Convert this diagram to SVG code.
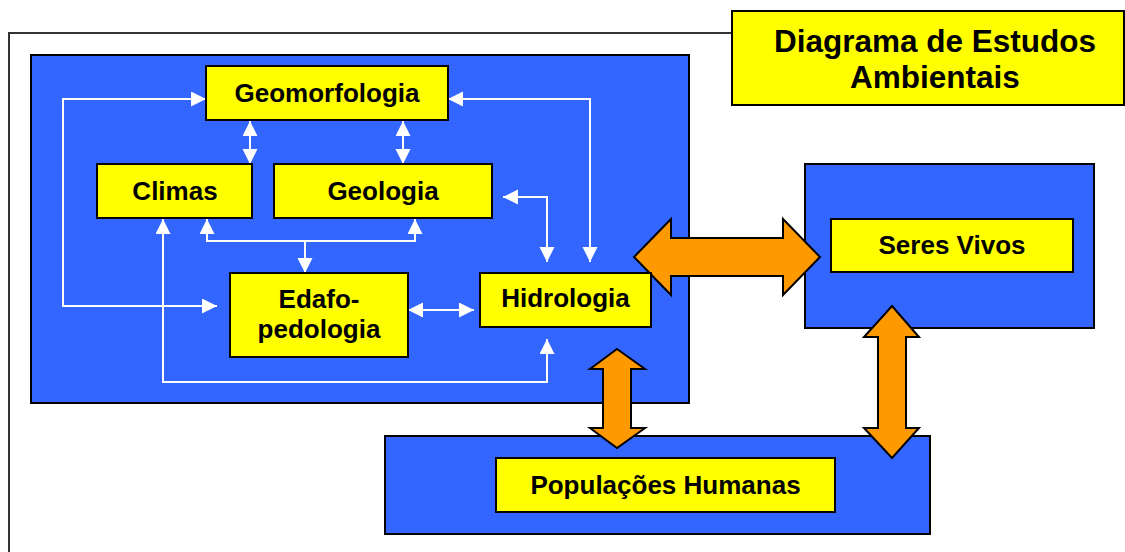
<svg xmlns="http://www.w3.org/2000/svg" width="1125" height="552" viewBox="0 0 1125 552">
<style>
.blue{fill:#3366FF;stroke:#000;stroke-width:2}
.yel{fill:#FFFF00;stroke:#000;stroke-width:2}
.org{fill:#FF9900;stroke:#000;stroke-width:2;stroke-linejoin:miter}
.lbl{font-family:"Liberation Sans",Arial,sans-serif;font-weight:bold;font-size:26px;fill:#000;text-anchor:middle}
.ttl{font-size:31.5px}
.wl{fill:none;stroke:#fff;stroke-width:2}
</style>
<defs>
<marker id="wa" markerUnits="userSpaceOnUse" markerWidth="16" markerHeight="16" refX="15" refY="7.5" orient="auto-start-reverse" viewBox="0 0 16 16">
<path d="M0,0 L15,7.5 L0,15 z" fill="#fff"/>
</marker>
</defs>
<rect width="1125" height="552" fill="#fff"/>
<g id="frame">
<path d="M9,560 V33 H732" fill="none" stroke="#333" stroke-width="2"/>
</g>
<g id="title">
<rect class="yel" x="732" y="11" width="392" height="94"/>
<text class="lbl ttl" x="935" y="52">Diagrama de Estudos</text>
<text class="lbl ttl" x="935" y="88">Ambientais</text>
</g>
<g id="meio-fisico">
<rect class="blue" x="31" y="55" width="658" height="348"/>
</g>
<g id="seres-vivos-area">
<rect class="blue" x="805" y="164" width="289" height="164"/>
</g>
<g id="populacoes-area">
<rect class="blue" x="385" y="436" width="545" height="98"/>
</g>
<g id="connectors">
<path class="wl" d="M250,121 V164" marker-start="url(#wa)" marker-end="url(#wa)"/>
<path class="wl" d="M403,121 V164" marker-start="url(#wa)" marker-end="url(#wa)"/>
<path class="wl" d="M206,99 H63 V306 H217" marker-start="url(#wa)" marker-end="url(#wa)"/>
<path class="wl" d="M163,219 V382 H547 V339" marker-start="url(#wa)" marker-end="url(#wa)"/>
<path class="wl" d="M207,219 V241 H415 V219" marker-start="url(#wa)" marker-end="url(#wa)"/>
<path class="wl" d="M305,241 V273" marker-end="url(#wa)"/>
<path class="wl" d="M408,310 H474" marker-start="url(#wa)" marker-end="url(#wa)"/>
<path class="wl" d="M503,197 H547 V262" marker-start="url(#wa)" marker-end="url(#wa)"/>
<path class="wl" d="M448,99 H590 V262" marker-start="url(#wa)" marker-end="url(#wa)"/>
<path class="org" d="M634,257 L671,219 V238 H783 V219 L820,257 L783,295 V276 H671 V295 z"/>
<path class="org" d="M617,349 L645,369 H631 V428 H645 L617,448 L590,428 H603 V369 H590 z"/>
<path class="org" d="M892,306 L919,337 H906 V428 H919 L892,458 L864,428 H878 V337 H864 z"/>
</g>
<g id="geomorfologia">
<rect class="yel" x="206" y="66" width="242" height="54"/>
<text class="lbl" x="327" y="102">Geomorfologia</text>
</g>
<g id="climas">
<rect class="yel" x="97" y="164" width="155" height="54"/>
<text class="lbl" x="175" y="200">Climas</text>
</g>
<g id="geologia">
<rect class="yel" x="274" y="164" width="218" height="54"/>
<text class="lbl" x="383" y="200">Geologia</text>
</g>
<g id="edafopedologia">
<rect class="yel" x="230" y="273" width="178" height="84"/>
<text class="lbl" x="319" y="308">Edafo-</text>
<text class="lbl" x="319" y="338">pedologia</text>
</g>
<g id="hidrologia">
<rect class="yel" x="480" y="273" width="171" height="54"/>
<text class="lbl" x="565.5" y="307" font-size="24">Hidrologia</text>
</g>
<g id="seres-vivos">
<rect class="yel" x="831" y="219" width="242" height="53"/>
<text class="lbl" x="952" y="254">Seres Vivos</text>
</g>
<g id="populacoes-humanas">
<rect class="yel" x="496" y="458" width="339" height="54"/>
<text class="lbl" x="665.5" y="494">Populações Humanas</text>
</g>
</svg>
